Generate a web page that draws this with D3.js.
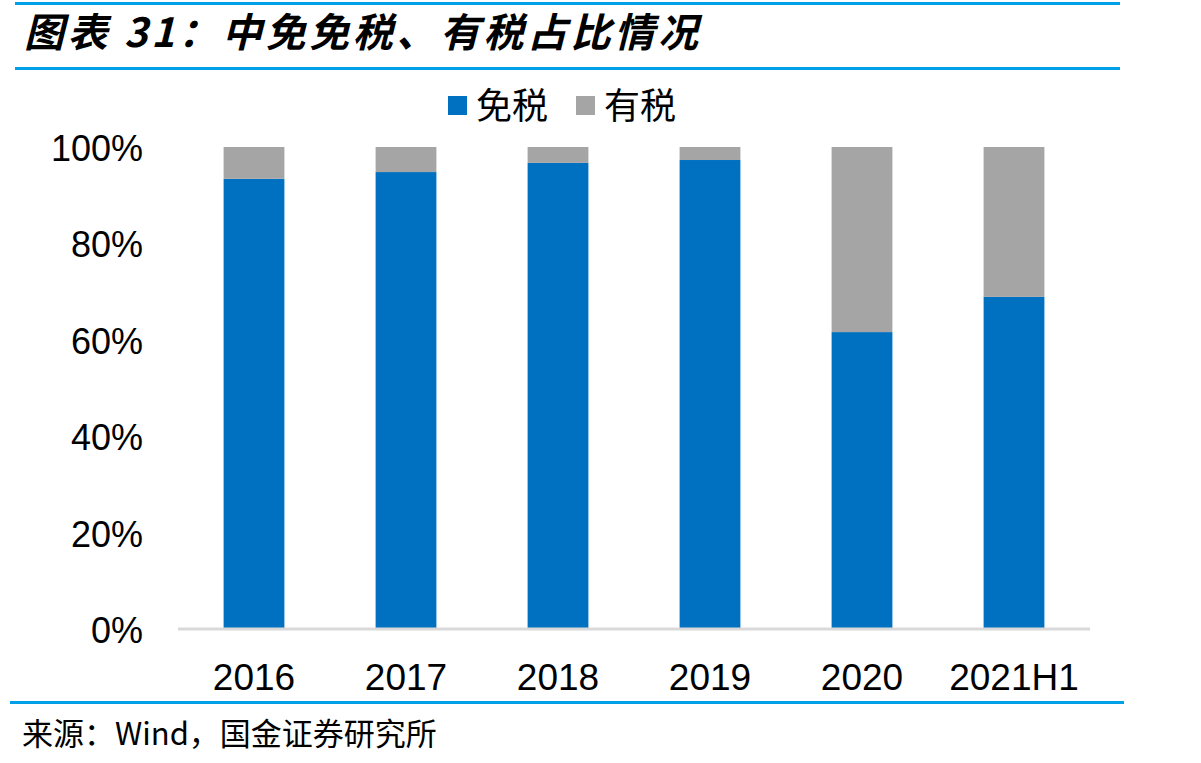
<!DOCTYPE html>
<html>
<head>
<meta charset="utf-8">
<script src="https://cdn.jsdelivr.net/npm/d3@7"></script>
<style>
  body { margin: 0; background: #fff; }
  text { font-family: "Liberation Sans", Arial, sans-serif; }
  .cjk { font-family: "Noto Sans CJK SC", sans-serif; }
</style>
</head>
<body>
<div id="container"></div>
<script>
let w = 1201;
let h = 763;

// data
let years = ["2016", "2017", "2018", "2019", "2020", "2021H1"];
let dutyFree = [93.4, 94.8, 96.7, 97.3, 61.6, 68.9];
let dutyPaid = years.map(function(d, i){ return 100 - dutyFree[i]; });
let seriesNames = ["免税", "有税"];
let colors = ["#0070C0", "#A5A5A5"];
let yTicks = [0, 20, 40, 60, 80, 100];

let viz = d3.select("#container").append("svg")
    .attr("width", w)
    .attr("height", h)
    .style("background-color", "white");

// header / footer rules
viz.append("rect").attr("x", 15).attr("y", 2).attr("width", 1105).attr("height", 3).attr("fill", "#00A0E9");
viz.append("rect").attr("x", 15).attr("y", 67).attr("width", 1105).attr("height", 3).attr("fill", "#00A0E9");
viz.append("rect").attr("x", 10).attr("y", 701).attr("width", 1114).attr("height", 3).attr("fill", "#00A0E9");

viz.append("text")
    .attr("class", "cjk")
    .attr("x", 24).attr("y", 47)
    .attr("font-size", 40)
    .attr("letter-spacing", 3.6)
    .attr("font-weight", "bold")
    .attr("font-style", "italic")
    .attr("fill", "#000")
    .text("图表 31：中免免税、有税占比情况");

viz.append("text")
    .attr("class", "cjk")
    .attr("x", 22).attr("y", 745)
    .attr("font-size", 31)
    .attr("fill", "#000")
    .text("来源：Wind，国金证券研究所");

// scales
let x = d3.scaleBand().domain(years).range([178, 1090]).paddingInner(0.6).paddingOuter(0.3);
let y = d3.scaleLinear().domain([0, 100]).range([629, 147]);

let table = years.map(function(d, i){
  return { year: d, "免税": dutyFree[i], "有税": dutyPaid[i] };
});
let stacked = d3.stack().keys(seriesNames)(table);

viz.append("g").selectAll("g").data(stacked).enter()
  .append("g")
    .attr("fill", function(d, i){ return colors[i]; })
  .selectAll("rect").data(function(d){ return d; }).enter()
  .append("rect")
    .attr("x", function(d){ return x(d.data.year); })
    .attr("y", function(d){ return y(d[1]); })
    .attr("width", x.bandwidth())
    .attr("height", function(d){ return y(d[0]) - y(d[1]); });

// baseline
viz.append("line")
    .attr("x1", 178).attr("x2", 1090)
    .attr("y1", y(0)).attr("y2", y(0))
    .attr("stroke", "#D9D9D9").attr("stroke-width", 3);

// y axis labels
viz.append("g").selectAll("text").data(yTicks).enter()
  .append("text")
    .attr("x", 143)
    .attr("y", function(d){ return y(d) + 14; })
    .attr("text-anchor", "end")
    .attr("font-size", 36)
    .attr("fill", "#000")
    .text(function(d){ return d + "%"; });

// x axis labels
viz.append("g").selectAll("text").data(years).enter()
  .append("text")
    .attr("x", function(d){ return x(d) + x.bandwidth() / 2; })
    .attr("y", 690)
    .attr("text-anchor", "middle")
    .attr("font-size", 37)
    .attr("fill", "#000")
    .text(function(d){ return d; });

// legend
let legendX = [448, 576];
let legend = viz.append("g").selectAll("g").data(seriesNames).enter()
  .append("g")
    .attr("transform", function(d, i){ return "translate(" + legendX[i] + ",96)"; });
legend.append("rect")
    .attr("width", 19).attr("height", 19)
    .attr("fill", function(d, i){ return colors[i]; });
legend.append("text")
    .attr("class", "cjk")
    .attr("x", 28).attr("y", 23)
    .attr("font-size", 36)
    .attr("fill", "#000")
    .text(function(d){ return d; });
</script>
</body>
</html>
